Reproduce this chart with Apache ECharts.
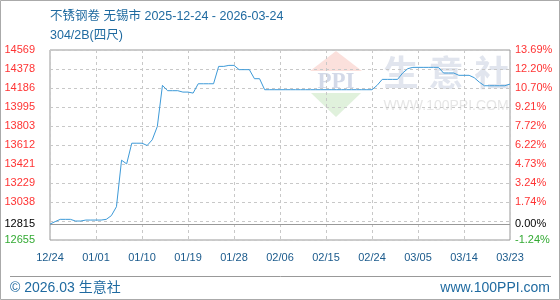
<!DOCTYPE html>
<html><head><meta charset="utf-8">
<script src="https://cdn.jsdelivr.net/npm/echarts@6/dist/echarts.min.js"></script>
<style>html,body{margin:0;padding:0;background:#fff}#c{width:560px;height:300px}</style>
</head><body><div id="c"></div>
<script>
const titleText = '不锈钢卷 无锡市 2025-12-24 - 2026-03-24';
const subTitleText = '304/2B(四尺)';
const footerLeft = '© 2026.03 生意社';
const footerRight = 'www.100PPI.com';

const dates = [
 '12-24','12-25','12-26','12-27','12-28','12-29','12-30','12-31',
 '01-01','01-02','01-03','01-04','01-05','01-06','01-07','01-08','01-09','01-10',
 '01-11','01-12','01-13','01-14','01-15','01-16','01-17','01-18','01-19','01-20',
 '01-21','01-22','01-23','01-24','01-25','01-26','01-27','01-28','01-29','01-30','01-31',
 '02-01','02-02','02-03','02-04','02-05','02-06','02-07','02-08','02-09','02-10',
 '02-11','02-12','02-13','02-14','02-15','02-16','02-17','02-18','02-19','02-20',
 '02-21','02-22','02-23','02-24','02-25','02-26','02-27','02-28',
 '03-01','03-02','03-03','03-04','03-05','03-06','03-07','03-08','03-09','03-10',
 '03-11','03-12','03-13','03-14','03-15','03-16','03-17','03-18','03-19','03-20',
 '03-21','03-22','03-23','03-24'
];
const prices = [
 12815,12840,12863,12863,12863,12846,12846,12856,12856,12856,
 12856,12863,12900,12990,13459,13422,13630,13630,13630,13607,
 13664,13799,14213,14159,14159,14159,14145,14145,14135,14229,
 14229,14229,14229,14404,14404,14414,14414,14371,14371,14371,
 14280,14280,14169,14169,14169,14169,14169,14169,14169,14169,
 14169,14169,14169,14169,14169,14169,14169,14169,14169,14169,
 14169,14169,14169,14169,14213,14273,14273,14273,14273,14337,
 14381,14394,14394,14394,14394,14394,14394,14337,14337,14337,
 14314,14314,14314,14290,14245,14209,14209,14209,14209,14209,
 14226
];
const basePrice = 12815;
const yMin = 12655, yMax = 14569, yStep = 191.4;
const leftTickValues = [14569,14378,14186,13995,13803,13612,13421,13229,13038,12815,12655];
const rightTickLabels = ['13.69%','12.20%','10.70%','9.21%','7.72%','6.22%','4.73%','3.24%','1.74%','0.00%','-1.24%'];
const xTickLabels = ['12/24','01/01','01/10','01/19','01/28','02/06','02/15','02/24','03/05','03/14','03/23'];

const FONT = '"Liberation Sans", Arial, sans-serif';
const CJK = '"Liberation Sans", "Noto Sans CJK SC", sans-serif';
const BLUE = '#1f6aa0';

function tag(v){ return v > basePrice ? 'up' : (v === basePrice ? 'base' : 'down'); }
const rich = {
  up: {color:'#ff3333', fontSize:11, fontFamily:FONT},
  base: {color:'#000000', fontSize:11, fontFamily:FONT},
  down: {color:'#33aa33', fontSize:11, fontFamily:FONT}
};

const chart = echarts.init(document.getElementById('c'), null, {renderer:'canvas'});
chart.setOption({
  animation:false,
  backgroundColor:'#ffffff',
  grid:{left:50, right:50, top:50, bottom:60, show:true, borderColor:'#999', borderWidth:1, backgroundColor:'transparent'},
  xAxis:[{
    type:'category', data:dates, boundaryGap:false, position:'top',
    axisLine:{show:false}, axisTick:{show:false}, axisLabel:{show:false},
    splitLine:{show:true, interval:8, lineStyle:{color:'#c8c8c8', type:[3,3], width:1}}
  },{
    type:'category', data:xTickLabels, boundaryGap:false, position:'bottom',
    axisLine:{show:false}, axisTick:{show:false}, splitLine:{show:false},
    axisLabel:{interval:0, margin:12, color:'#1a5a8c', fontSize:11, fontFamily:FONT}
  }],
  yAxis:[{
    type:'value', min:yMin, max:yMax, interval:yStep, position:'left',
    axisLine:{show:false}, axisTick:{show:false},
    splitLine:{show:true, lineStyle:{color:'#c8c8c8', type:[3,3], width:1}},
    axisLabel:{customValues:leftTickValues, margin:15, align:'right',
      formatter:function(v){ return '{' + tag(v) + '|' + v + '}'; }, rich:rich}
  },{
    type:'value', min:yMin, max:yMax, interval:yStep, position:'right',
    axisLine:{show:false}, axisTick:{show:false}, splitLine:{show:false},
    axisLabel:{customValues:leftTickValues, margin:5, align:'left',
      formatter:function(v){ var i = leftTickValues.indexOf(v); return '{' + tag(v) + '|' + rightTickLabels[i] + '}'; }, rich:rich}
  }],
  series:[{
    type:'line', data:prices, xAxisIndex:0, yAxisIndex:0, showSymbol:false, symbol:'none',
    lineStyle:{color:'#3d9ad8', width:1}, z:5,
    markLine:{silent:true, symbol:'none', label:{show:false}, animation:false,
      lineStyle:{color:'#999', type:'solid', width:1}, data:[{yAxis:basePrice}]}
  }],
  graphic:[
    {type:'rect', shape:{x:0.5,y:0.5,width:559,height:299}, style:{fill:'none', stroke:'#aaaaaa', lineWidth:1}, z:100},
    {type:'line', shape:{x1:10,y1:276.5,x2:551,y2:276.5}, style:{stroke:'#999', lineWidth:1}},
    {type:'text', x:50, y:17, style:{text:titleText, font:'12.5px ' + CJK, fill:BLUE, textVerticalAlign:'middle'}},
    {type:'text', x:50, y:36, style:{text:subTitleText, font:'12.5px ' + CJK, fill:BLUE, textVerticalAlign:'middle'}},
    {type:'text', x:10, y:288, style:{text:footerLeft, font:'14px ' + CJK, fill:BLUE, textVerticalAlign:'middle'}},
    {type:'text', x:550, y:288, style:{text:footerRight, font:'14px ' + FONT, fill:BLUE, textAlign:'right', textVerticalAlign:'middle'}},
    {type:'polygon', z:-1, shape:{points:[[336,51],[310,71],[362,71]]}, style:{fill:'#fbe0dc'}},
    {type:'text', z:-1, x:336, y:82, style:{text:'PPI', font:'bold 23px "Liberation Serif", serif', fill:'#d3d9e8', textAlign:'center', textVerticalAlign:'middle'}},
    {type:'polygon', z:-1, shape:{points:[[311,93],[361,93],[336,117]]}, style:{fill:'#e0f1dc'}},
    {type:'text', z:-1, x:401, y:73, style:{text:'生', font:'bold 35px "Noto Sans CJK SC", sans-serif', fill:'#e1e5ee', textAlign:'center', textVerticalAlign:'middle'}},
    {type:'text', z:-1, x:446, y:73, style:{text:'意', font:'bold 35px "Noto Sans CJK SC", sans-serif', fill:'#e1e5ee', textAlign:'center', textVerticalAlign:'middle'}},
    {type:'text', z:-1, x:492, y:73, style:{text:'社', font:'bold 35px "Noto Sans CJK SC", sans-serif', fill:'#e1e5ee', textAlign:'center', textVerticalAlign:'middle'}},
    {type:'text', z:-1, x:446, y:106, style:{text:'WWW.100PPI.COM', font:'14px ' + FONT, fill:'#e6e6e6', textAlign:'center', textVerticalAlign:'middle'}}
  ]
});
</script>
</body></html>
